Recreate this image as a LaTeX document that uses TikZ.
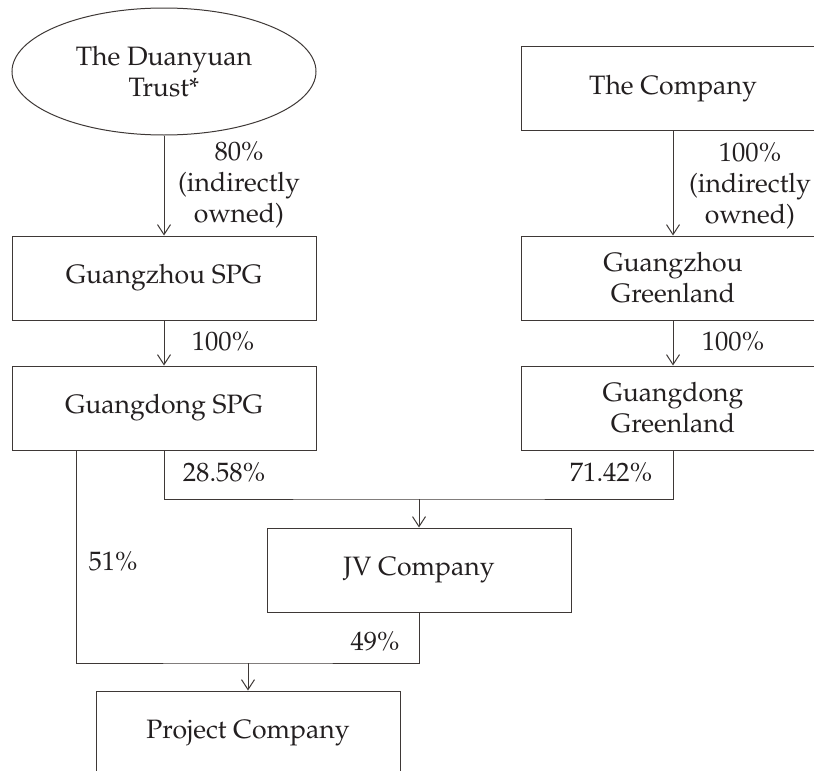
\documentclass[tikz,border=0pt]{standalone}
\usepackage[T1]{fontenc}
\usepackage{mathpazo}
\usetikzlibrary{arrows.meta,shapes.geometric,positioning}

\definecolor{linec}{RGB}{62,56,54}
\definecolor{textc}{RGB}{35,31,32}

\tikzset{
  firm/.style={draw=linec,rectangle,minimum width=152pt,minimum height=42pt,inner sep=2pt,align=center,text=textc},
  trust/.style={draw=linec,ellipse,minimum width=152pt,minimum height=63.5pt,inner sep=0pt,align=center,text=textc},
  pct/.style={text=textc,align=center,inner sep=0pt},
}

\begin{document}
\begin{tikzpicture}[x=0.5pt,y=-0.5pt,>={Straight Barb[length=5pt,width=6.5pt]},line width=0.5pt,font=\fontsize{13.3}{15.5}\selectfont]
    \useasboundingbox (0,0) rectangle (814,771);
    \node[trust] (duan) at (164,71.5) {The Duanyuan\\Trust*};
    \node[firm] (gzspg) at (164,278) {Guangzhou SPG};
    \node[firm] (gdspg) [below=22.5pt of gzspg] {Guangdong SPG};
    \node[firm] (comp) at (673,88.5) {The Company};
    \node[firm] (gzgl) at (673,278) {Guangzhou\\Greenland};
    \node[firm] (gdgl) [below=22.5pt of gzgl] {Guangdong\\Greenland};
    \node[firm] (jv) at (419,570) {JV Company};
    \node[firm] (proj) at (248,733) {Project Company};

    \coordinate (jvin) at (419,499);
    \coordinate (projin) at (248,663);
    \coordinate (spgleft) at ([xshift=32.5pt]gdspg.south west);

    \draw[->,linec] (duan) -- (gzspg);
    \draw[->,linec] (gzspg) -- (gdspg);
    \draw[->,linec] (comp) -- (gzgl);
    \draw[->,linec] (gzgl) -- (gdgl);
    \draw[linec] (gdspg.south) |- (jvin) -| (gdgl.south);
    \draw[->,linec] (jvin) -- (jv);
    \draw[linec] (spgleft) |- (projin) -| (jv.south);
    \draw[->,linec] (projin) -- (proj);

    \node[pct] (p80) at (239,185) {80\%\\(indirectly\\owned)};
    \node[pct] (p100c) at (750,186) {100\%\\(indirectly\\owned)};
    \node[pct] (p100l) at (223,342) {100\%};
    \node[pct] (p100r) at (733,342) {100\%};
    \node[pct] (p2858) at (224,473) {28.58\%};
    \node[pct] (p7142) at (611,473) {71.42\%};
    \node[pct] (p51) at (113,562) {51\%};
    \node[pct] (p49) at (375,642) {49\%};
  \end{tikzpicture}
\end{document}
